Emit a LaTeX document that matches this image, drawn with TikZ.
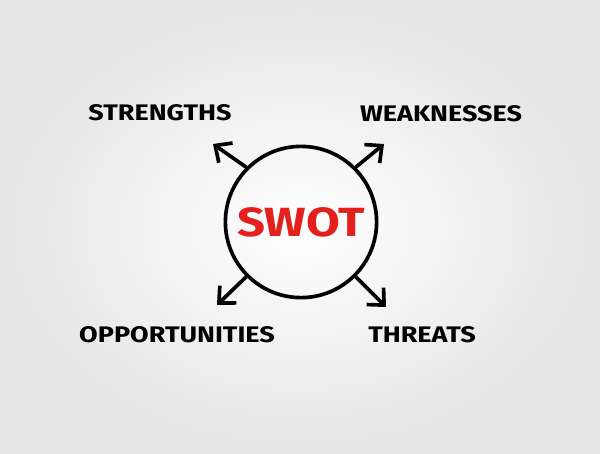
\documentclass[tikz,border=0pt]{standalone}
\usepackage{fontspec}
\setmainfont{Fira Sans}
\newfontfamily\handfont[FakeStretch=1.2]{Fira Sans}
\usetikzlibrary{arrows.meta}

\definecolor{swotred}{HTML}{E3201C}

\tikzset{
  lbl/.style={font=\handfont\bfseries\fontsize{16}{18}\selectfont, inner sep=0pt},
  arr/.style={line width=2.6pt, -{Straight Barb[length=3.2mm, width=6mm]}},
}

\begin{document}
\begin{tikzpicture}[x=0.025cm, y=-0.025cm]
  \shade[inner color=white, outer color=black!10] (0,0) rectangle (600,454);
  \useasboundingbox (0,0) rectangle (600,454);

  \node[circle, draw, line width=2.6pt, minimum size=3.78cm, inner sep=0pt,
        text=swotred, font=\handfont\bfseries\fontsize{29}{32}\selectfont] (swot) at (301,222) {SWOT};

  \node[lbl] (strengths) at (160,113) {STRENGTHS};
  \node[lbl] (weaknesses) at (441,114) {WEAKNESSES};
  \node[lbl] (opportunities) at (177,335) {OPPORTUNITIES};
  \node[lbl] (threats) at (422,335) {THREATS};

  \coordinate (sTip) at (213,144);
  \coordinate (wTip) at (384,144);
  \coordinate (oTip) at (217,305);
  \coordinate (tTip) at (386,307);

  \draw[arr] (swot.135) -- (sTip);
  \draw[arr] (swot.45) -- (wTip);
  \draw[arr] (swot.225) -- (oTip);
  \draw[arr] (swot.-45) -- (tTip);
\end{tikzpicture}
\end{document}
